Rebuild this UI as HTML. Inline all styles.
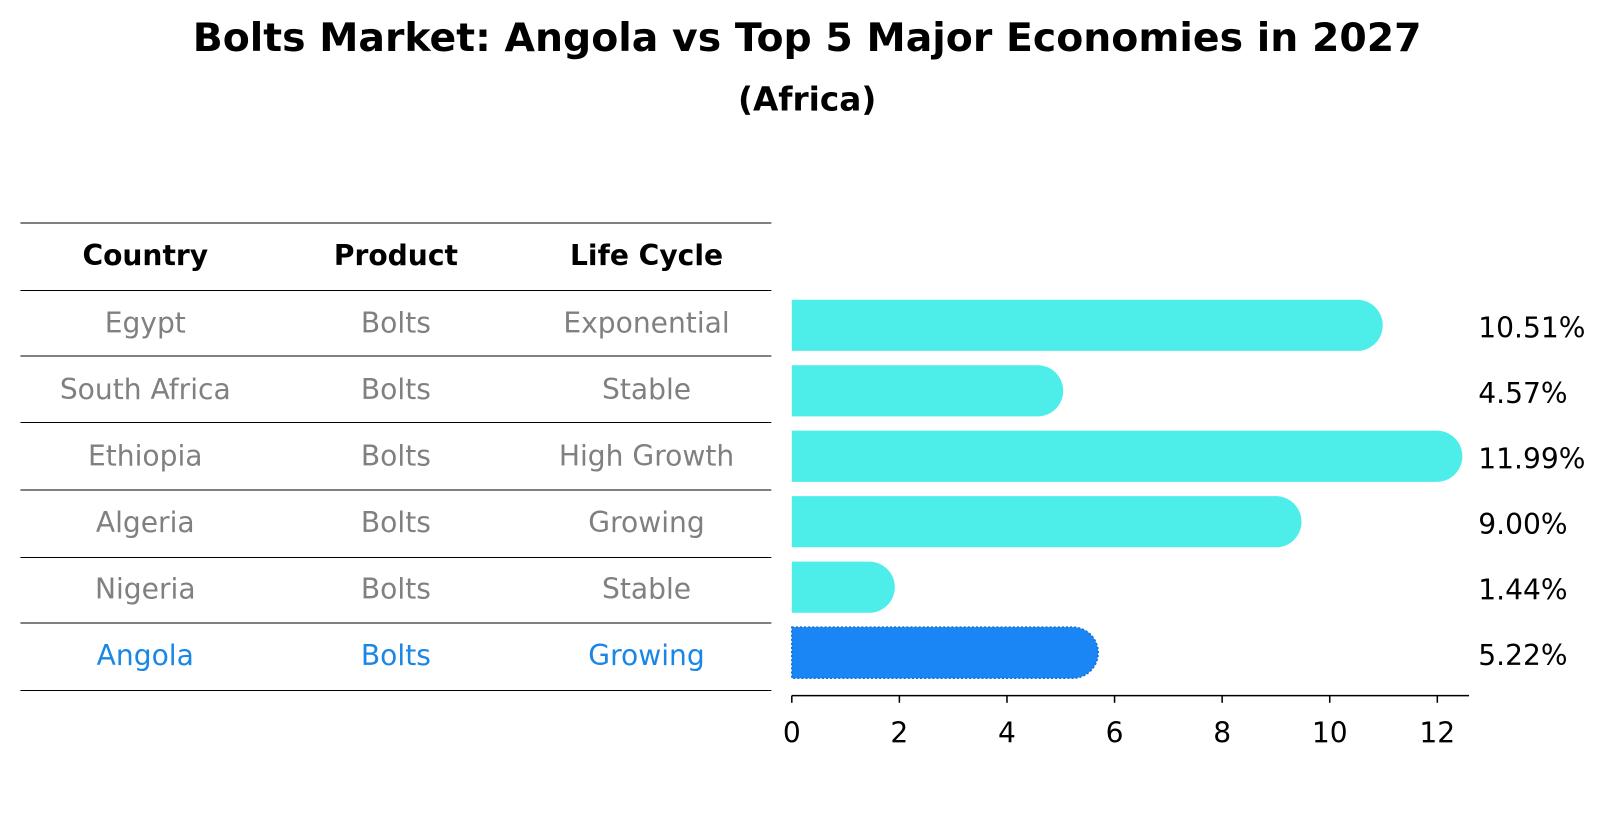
<!DOCTYPE html>
<html><head><meta charset="utf-8"><style>
body{margin:0;background:#fff;font-family:"Liberation Sans","DejaVu Sans",sans-serif;}
</style></head><body>
<svg width="1604" height="823" xmlns="http://www.w3.org/2000/svg" font-family="DejaVu Sans, Liberation Sans, sans-serif">
<g transform="scale(1.0230)">
<text x="789" y="50" text-anchor="middle" font-size="38.5" font-weight="bold">Bolts Market: Angola vs Top 5 Major Economies in 2027</text>
<text x="789" y="108" text-anchor="middle" font-size="32" font-weight="bold">(Africa)</text>
<g id="table"></g>
<g id="bars"></g>
</g>
</svg>
<script>
const countries=["Egypt","South Africa","Ethiopia","Algeria","Nigeria","Angola"];
const products=["Bolts","Bolts","Bolts","Bolts","Bolts","Bolts"];
const lifeCycles=["Exponential","Stable","High Growth","Growing","Stable","Growing"];
const values=[10.51,4.57,11.99,9.00,1.44,5.22];
const ticks=[0,2,4,6,8,10,12];
const NS="http://www.w3.org/2000/svg";
function mk(tag,attrs,parent){const e=document.createElementNS(NS,tag);for(const k in attrs)e.setAttribute(k,attrs[k]);parent.appendChild(e);return e;}
const tbl=document.getElementById('table');
const bars=document.getElementById('bars');
const lineYs=[218,284,348,413,479,545,609,675];
const colX=[142,387,632];
const FS=27.5;
lineYs.forEach(y=>{const l=mk('line',{x1:20,x2:754,y1:y,y2:y,stroke:'#000','stroke-width':1},tbl);

});
["Country","Product","Life Cycle"].forEach((h,i)=>{const t=mk('text',{x:colX[i],y:259,'text-anchor':'middle','font-size':FS,'font-weight':'bold'},tbl);t.textContent=h;

});
const xs=v=>774+v*(1405-774)/12;
const rowY=i=>318+i*64;
const textY=i=>325+i*65;
const H=50;
countries.forEach((c,i)=>{
 const hl=c==="Angola";
 const col=hl?'#1a86e6':'#808080';
 [c,products[i],lifeCycles[i]].forEach((s,j)=>{const t=mk('text',{x:colX[j],y:textY(i),'text-anchor':'middle','font-size':FS,fill:col},tbl);t.textContent=s;
 
 });
 const x0=xs(0),x1=xs(values[i]),y=rowY(i)-H/2,r=H/2;
 const p=mk('path',{d:`M${x0},${y} H${x1} A${r},${r} 0 0 1 ${x1},${y+H} H${x0} Z`,fill:hl?'#1a86f5':'#4deeea'},bars);
 if(hl){p.setAttribute('stroke','#1570d0');p.setAttribute('stroke-dasharray','2,2');p.setAttribute('stroke-width','1.5');}
 
 
 const t=mk('text',{x:1445,y:rowY(i)+12,'font-size':FS},bars);t.textContent=values[i].toFixed(2)+'%';
 
 
});
const ax=mk('line',{x1:774,x2:1436,y1:680,y2:680,stroke:'#000','stroke-width':1.5},bars);


ticks.forEach(v=>{const l=mk('line',{x1:xs(v),x2:xs(v),y1:680,y2:687,stroke:'#000','stroke-width':1.5},bars);


const t=mk('text',{x:xs(v),y:726,'text-anchor':'middle','font-size':FS},bars);t.textContent=v;

});
</script>
</body></html>
